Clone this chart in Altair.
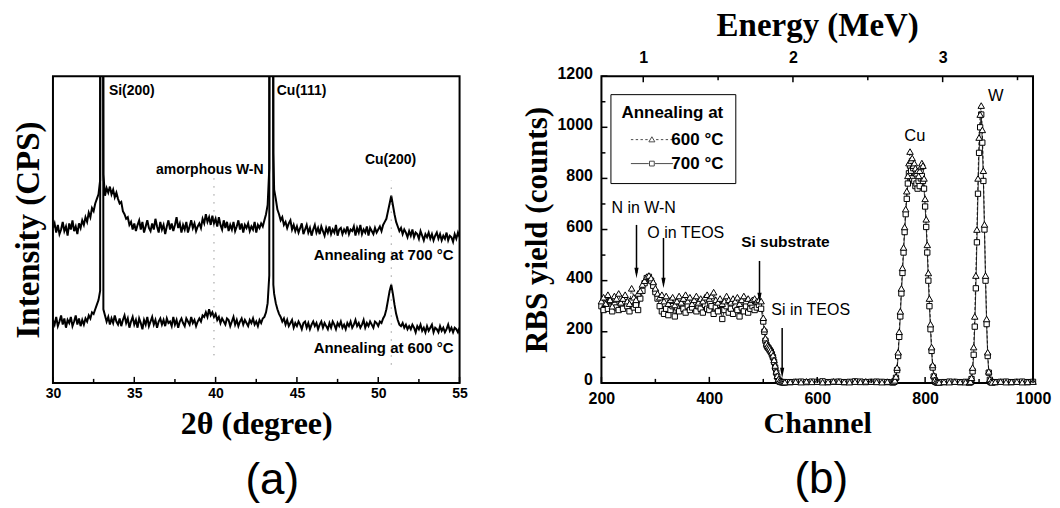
import altair as alt
import pandas as pd

FONT_SANS = "Liberation Sans"
FONT_SERIF = "Liberation Serif"

# ---------------- (a) XRD ----------------
two_theta = [
    30.0, 30.1, 30.2, 30.3, 30.4, 30.5, 30.6, 30.7, 30.8, 30.9,
    31.0, 31.1, 31.2, 31.3, 31.4, 31.5, 31.6, 31.7, 31.8, 31.9,
    32.0, 32.1, 32.2, 32.3, 32.4, 32.5, 32.6, 32.7, 32.8,
    32.9, 32.95, 33.0, 33.05, 33.1,
    33.2, 33.3, 33.4, 33.5, 33.6, 33.7, 33.8, 33.9,
    34.0, 34.1, 34.2, 34.3, 34.4, 34.5, 34.6, 34.7, 34.8, 34.9,
    35.0, 35.1, 35.2, 35.3, 35.4, 35.5, 35.6, 35.7, 35.8, 35.9,
    36.0, 36.1, 36.2, 36.3, 36.4, 36.5, 36.6, 36.7, 36.8, 36.9,
    37.0, 37.1, 37.2, 37.3, 37.4, 37.5, 37.6, 37.7, 37.8, 37.9,
    38.0, 38.1, 38.2, 38.3, 38.4, 38.5, 38.6, 38.7, 38.8, 38.9,
    39.0, 39.1, 39.2, 39.3, 39.4, 39.5, 39.6, 39.7, 39.8, 39.9,
    40.0, 40.1, 40.2, 40.3, 40.4, 40.5, 40.6, 40.7, 40.8, 40.9,
    41.0, 41.1, 41.2, 41.3, 41.4, 41.5, 41.6, 41.7, 41.8, 41.9,
    42.0, 42.1, 42.2, 42.3, 42.4, 42.5, 42.6, 42.7, 42.8, 42.9,
    43.0, 43.1, 43.2,
    43.3, 43.35, 43.4, 43.45, 43.5, 43.55,
    43.6, 43.7, 43.8, 43.9,
    44.0, 44.1, 44.2, 44.3, 44.4, 44.5, 44.6, 44.7, 44.8, 44.9,
    45.0, 45.1, 45.2, 45.3, 45.4, 45.5, 45.6, 45.7, 45.8, 45.9,
    46.0, 46.1, 46.2, 46.3, 46.4, 46.5, 46.6, 46.7, 46.8, 46.9,
    47.0, 47.1, 47.2, 47.3, 47.4, 47.5, 47.6, 47.7, 47.8, 47.9,
    48.0, 48.1, 48.2, 48.3, 48.4, 48.5, 48.6, 48.7, 48.8, 48.9,
    49.0, 49.1, 49.2, 49.3, 49.4, 49.5, 49.6, 49.7, 49.8, 49.9,
    50.0, 50.1, 50.2, 50.3, 50.4, 50.5, 50.6, 50.7, 50.8, 50.9,
    51.0, 51.1, 51.2, 51.3, 51.4, 51.5, 51.6, 51.7, 51.8, 51.9,
    52.0, 52.1, 52.2, 52.3, 52.4, 52.5, 52.6, 52.7, 52.8, 52.9,
    53.0, 53.1, 53.2, 53.3, 53.4, 53.5, 53.6, 53.7, 53.8, 53.9,
    54.0, 54.1, 54.2, 54.3, 54.4, 54.5, 54.6, 54.7, 54.8, 54.9,
    55.0,
]
xrd_700 = [
    50.5, 52, 49, 51.5, 48.5, 50, 52.5, 49.5, 51, 48,
    52, 50, 53, 49.5, 51, 48.5, 52, 50.5, 53, 51.5,
    54, 52.5, 55.5, 54, 57, 56, 58.5, 60, 61.5,
    66, 400, 500, 400, 68,
    61, 63.5, 62, 64, 61.5, 63, 60.5, 62,
    60, 58.5, 59, 56, 55, 53.5, 54, 51.5, 52.5, 50,
    52, 49.5, 51.5, 53, 50, 52.5, 49, 51, 53, 50.5,
    49.5, 52, 50, 53.5, 51, 49, 52.5, 50, 51.5, 48.5,
    51, 53, 50, 52, 49.5, 51.5, 54, 50.5, 52, 49,
    51.5, 50, 52.5, 49, 51, 53, 50.5, 52, 49.5, 51,
    52, 50.5, 53.5, 52, 55, 52.5, 54, 51.5, 54.5, 52,
    53.5, 51, 54, 51.5, 50, 53, 50.5, 52.5, 49.5, 51.5,
    50, 52.5, 49.5, 51, 53, 50, 52, 49, 51.5, 50.5,
    52, 49.5, 51, 50, 52.5, 49, 51.5, 50.5, 52, 51,
    53, 55, 58,
    70, 400, 500, 500, 400, 75,
    63, 60, 56.5, 55,
    53, 54, 51.5, 52.5, 50.5, 52, 53, 50, 51.5, 49.5,
    51, 49, 50.5, 52, 48.5, 50, 51.5, 49, 50.5, 48,
    50, 51.5, 49, 50.5, 48.5, 51, 49.5, 48, 50.5, 49,
    51, 48.5, 50, 49, 51.5, 48, 50, 50.5, 48.5, 50,
    49, 51, 48.5, 50, 49.5, 51, 48, 50.5, 49, 51.5,
    48.5, 50, 49, 51, 48, 50.5, 49.5, 48.5, 50.5, 49,
    50, 51, 49.5, 51.5, 52.5, 53.5, 56, 58.5, 61, 58,
    55, 52.5, 51, 49.5, 50.5, 48.5, 50, 49, 47.5, 49.5,
    48, 50, 47.5, 49, 48.5, 47, 49.5, 48, 46.5, 48.5,
    47.5, 49, 47, 48.5, 46.5, 48, 49, 47, 48.5, 46.5,
    48, 47, 49, 46.5, 48, 47.5, 46, 48.5, 47, 49,
    47.5,
]
xrd_600 = [
    20.5, 19, 21.5, 18.5, 20, 22, 19, 21, 18, 20.5,
    19.5, 21.5, 18.5, 20, 22, 19, 21, 18.5, 20.5, 19,
    21, 20, 22, 21, 23, 22.5, 24, 25.5, 27,
    30, 400, 500, 400, 24,
    22, 20, 21.5, 19, 21, 19.5, 22, 20,
    19, 21, 18.5, 20.5, 22, 19.5, 21, 18, 20, 21.5,
    19, 20.5, 18, 21, 19.5, 17.5, 20.5, 19, 21.5, 18.5,
    20, 21.5, 19, 20.5, 18, 20, 21, 19, 20.5, 18.5,
    21, 19.5, 20, 18.5, 21.5, 19, 20.5, 18, 20, 21,
    19.5, 18.5, 21, 20, 19, 21.5, 19.5, 20.5, 18.5, 20,
    21, 20, 22, 21.5, 23, 21.5, 24, 22, 23, 21.5,
    22.5, 20.5, 21.5, 19.5, 21, 20, 19, 21, 20.5, 18.5,
    20, 21.5, 19, 20.5, 18.5, 20, 21, 19, 20.5, 19.5,
    18.5, 20.5, 19.5, 21, 19, 20, 18.5, 20.5, 19.5, 21,
    21.5, 23, 26,
    35, 400, 500, 500, 400, 32,
    29, 26, 24, 22.5,
    21.5, 20, 21, 19, 20.5, 18.5, 19.5, 20.5, 18, 19.5,
    18.5, 20, 19, 17.5, 19.5, 20, 18, 19.5, 17.5, 19,
    20, 18.5, 19.5, 17.5, 19, 20, 18, 19.5, 18.5, 17.5,
    19.5, 18, 20, 19, 17.5, 19.5, 18.5, 20, 18, 19,
    17.5, 19.5, 18.5, 20, 18, 19, 20.5, 18.5, 19.5, 18,
    19, 20.5, 18, 19.5, 18.5, 20, 19, 18, 20, 19.5,
    18.5, 20, 19.5, 21, 22, 24, 27, 30, 32, 29,
    25.5, 22.5, 20.5, 19, 18.5, 19.5, 18, 19, 17.5, 18.5,
    17.5, 19, 18, 16.5, 18.5, 17.5, 19, 17, 18, 16.5,
    18.5, 17, 18, 19, 16.5, 18, 17.5, 16.5, 18.5, 17,
    18, 16.5, 17.5, 19, 17, 18, 16.5, 18, 17.5, 16.5,
    18,
]
xrd_series = ["Annealing at 700 °C", "Annealing at 600 °C"]
xrd_ticks_major = [30, 35, 40, 45, 50, 55]
xrd_ticks_minor = [32.5, 37.5, 42.5, 47.5, 52.5]
xrd_guide_x = [39.9, 50.8]
xrd_guide_lo = [9, 6]
xrd_guide_hi = [70, 66]
xrd_peak_labels = ["Si(200)", "Cu(111)"]
xrd_peak_x = [33.44, 43.76]
xrd_peak_y = [95.1, 95.1]
xrd_mid_labels = ["amorphous W-N", "Cu(200)"]
xrd_mid_x = [39.64, 50.76]
xrd_mid_y = [69.4, 72.6]
xrd_series_x = [54.63, 54.63]
xrd_series_y = [41.7, 11.4]

# ---------------- (b) RBS ----------------
ch_plateau = [
    200, 204, 208, 212, 216, 220, 224, 228, 232, 236,
    240, 244, 248, 252, 256, 260, 264, 268, 272, 276,
    280, 284, 288, 292, 296, 300, 304, 308, 312, 316,
    320, 324, 328, 332, 336, 340, 344, 348, 352, 356,
    360, 364, 368, 372, 376, 380, 384, 388, 392, 396,
    400, 404, 408, 412, 416, 420, 424, 428, 432, 436,
    440, 444, 448, 452, 456, 460, 464, 468, 472, 476,
    480, 484, 488, 492, 496,
]
tri_plateau = [
    320, 335, 310, 345, 325, 300, 340, 330, 350, 315,
    330, 345, 320, 310, 370, 335, 325, 350, 360, 385,
    400, 415, 420, 410, 395, 370, 350, 335, 345, 320,
    340, 310, 325, 335, 305, 320, 340, 315, 330, 345,
    320, 335, 310, 325, 340, 315, 330, 320, 335, 345,
    330, 340, 355, 325, 315, 330, 310, 320, 340, 325,
    315, 330, 320, 335, 310, 325, 340, 320, 330, 315,
    325, 330, 320, 325, 320,
]
sq_plateau = [
    300, 285, 310, 290, 320, 280, 305, 295, 285, 310,
    290, 315, 300, 280, 320, 295, 305, 285, 330, 360,
    390, 410, 415, 400, 380, 355, 330, 300, 280, 270,
    290, 265, 285, 300, 260, 295, 280, 310, 290, 275,
    300, 285, 295, 310, 280, 300, 290, 275, 305, 290,
    285, 300, 270, 295, 280, 305, 250, 285, 300, 275,
    290, 270, 300, 285, 260, 295, 280, 300, 275, 290,
    300, 285, 295, 305, 290,
]
ch_edge = [500, 502, 504, 506, 508, 510, 512, 514, 516, 518, 520,
           522, 524, 526, 528, 530, 532, 534, 536, 538, 540]
tri_edge = [255, 210, 175, 155, 145, 140, 135, 128, 120, 108, 90,
            68, 45, 28, 15, 8, 5, 4, 4, 3, 3]
sq_edge = [240, 200, 165, 148, 140, 135, 128, 122, 112, 100, 82,
           60, 40, 24, 12, 7, 4, 3, 3, 3, 3]
ch_zero1 = [550, 560, 570, 580, 590, 600, 610, 620, 630, 640,
            650, 660, 670, 680, 690, 700, 710, 720, 730]
tri_zero1 = [4, 5, 3, 6, 4, 5, 3, 4, 6, 5, 4, 3, 5, 4, 6, 5, 4, 3, 5]
sq_zero1 = [3, 4, 5, 3, 5, 4, 6, 3, 4, 5, 3, 4, 6, 5, 3, 4, 5, 4, 3]
ch_cu = [740, 742, 744, 746, 748, 750, 752, 754, 756, 758,
         760, 762, 764, 766, 768, 770, 772, 774, 776, 778,
         780, 782, 784, 786, 788, 790, 792, 794, 796, 798,
         800, 802, 804, 806, 808, 810, 812, 814, 816, 818,
         820, 822, 824, 826]
tri_cu = [3, 5, 10, 25, 60, 120, 200, 280, 370, 450,
          530, 610, 680, 750, 810, 860, 905, 870, 880, 850,
          860, 840, 820, 830, 810, 830, 845, 860, 850, 800,
          720, 640, 540, 430, 330, 230, 140, 70, 30, 12,
          5, 3, 3, 2]
sq_cu = [2, 4, 8, 20, 50, 105, 180, 260, 350, 430,
         510, 590, 660, 720, 780, 820, 850, 830, 800, 840,
         790, 770, 780, 760, 790, 770, 800, 810, 790, 760,
         690, 610, 510, 400, 300, 210, 125, 60, 25, 10,
         4, 2, 2, 2]
ch_zero2 = [835, 845, 855, 865, 875]
tri_zero2 = [4, 3, 5, 4, 3]
sq_zero2 = [3, 5, 4, 3, 4]
ch_w = [882, 884, 886, 888, 890, 892, 894, 896, 898, 900, 902,
        904, 906, 908, 910, 912, 914, 916, 918, 920, 922, 924]
tri_w = [2, 5, 20, 60, 140, 260, 420, 600, 800, 960, 1050,
         1085, 990, 830, 620, 420, 250, 120, 45, 15, 5, 2]
sq_w = [2, 4, 15, 45, 110, 220, 370, 550, 740, 900, 1000,
        1050, 940, 790, 600, 400, 230, 105, 40, 12, 4, 2]
ch_zero3 = [930, 940, 950, 960, 970, 980, 990, 1000]
tri_zero3 = [4, 5, 3, 4, 5, 3, 4, 5]
sq_zero3 = [3, 4, 5, 3, 4, 5, 3, 4]

rbs_series = ["600 °C", "700 °C"]
channels_per_mev = 277.5
rbs_x_major = [200, 400, 600, 800, 1000]
rbs_x_minor = [300, 500, 700, 900]
rbs_y_major = [0, 200, 400, 600, 800, 1000, 1200]
rbs_y_minor = [100, 300, 500, 700, 900, 1100]
energy_major = [1, 2, 3]
energy_minor = [1.5, 2.5, 3.5]
rbs_labels = ["N in W-N", "O in TEOS", "Si in TEOS"]
rbs_label_ch = [218.5, 285, 515]
rbs_label_cnt = [684, 586, 285]
rbs_bold_labels = ["Si substrate"]
rbs_bold_ch = [459]
rbs_bold_cnt = [551]
rbs_elem_labels = ["Cu", "W"]
rbs_elem_ch = [781, 931]
rbs_elem_cnt = [965, 1122]
arrow_ch = [265, 315, 493, 535]
arrow_top = [618, 567, 477, 215]
arrow_end = [430, 391, 332, 39]

# ---------------- build (a) ----------------
W_A, W_B, H = 407, 432, 307
n = len(two_theta)
df_xrd = pd.DataFrame({
    "tt": two_theta + two_theta,
    "I": xrd_700 + xrd_600,
    "series": [xrd_series[0]] * n + [xrd_series[1]] * n,
})
ax_a_x = alt.Axis(values=xrd_ticks_major, format="d", labelPadding=4,
                  title="2θ (degree)", titleFontSize=32, titlePadding=8)
ax_a_y = alt.Axis(labels=False, title="Intensity (CPS)", titleFontSize=33, titlePadding=7)
xa = alt.X("tt:Q", scale=alt.Scale(domain=[30, 55], nice=False, zero=False), axis=ax_a_x)
ya = alt.Y("I:Q", scale=alt.Scale(domain=[0, 100], nice=False, zero=False), axis=ax_a_y)

lines_a = alt.Chart(df_xrd).mark_line(color="black", strokeWidth=2, clip=True).encode(
    x=xa, y=ya, detail="series:N")

guides = pd.DataFrame({"tt": xrd_guide_x, "I": xrd_guide_lo, "I2": xrd_guide_hi})
guide_a = alt.Chart(guides).mark_rule(color="#666", strokeWidth=1, strokeDash=[1, 7]).encode(
    x=xa, y=ya, y2="I2:Q")

tk_maj_a = alt.Chart(pd.DataFrame({"tt": xrd_ticks_major})).mark_rule(
    color="black", strokeWidth=1.5).encode(x=xa, y=alt.value(H), y2=alt.value(H - 6))
tk_min_a = alt.Chart(pd.DataFrame({"tt": xrd_ticks_minor})).mark_rule(
    color="black", strokeWidth=1.5).encode(x=xa, y=alt.value(H), y2=alt.value(H - 4))

txt_peak = alt.Chart(pd.DataFrame({"tt": xrd_peak_x, "I": xrd_peak_y, "t": xrd_peak_labels})).mark_text(
    font=FONT_SANS, fontSize=14, fontWeight="bold", align="left", baseline="middle", color="black"
).encode(x=xa, y=ya, text="t:N")
txt_mid = alt.Chart(pd.DataFrame({"tt": xrd_mid_x, "I": xrd_mid_y, "t": xrd_mid_labels})).mark_text(
    font=FONT_SANS, fontSize=14, fontWeight="bold", align="center", baseline="middle", color="black"
).encode(x=xa, y=ya, text="t:N")
txt_series = alt.Chart(pd.DataFrame({"tt": xrd_series_x, "I": xrd_series_y, "t": xrd_series})).mark_text(
    font=FONT_SANS, fontSize=15, fontWeight="bold", align="right", baseline="middle", color="black"
).encode(x=xa, y=ya, text="t:N")

chart_a = alt.layer(lines_a, guide_a, tk_maj_a, tk_min_a, txt_peak, txt_mid, txt_series).properties(
    width=W_A, height=H,
    title=alt.TitleParams("(a)", orient="bottom", font=FONT_SANS, fontSize=44, fontWeight="normal",
                          color="black", offset=19, dx=16),
)

# ---------------- build (b) ----------------
ch_all = ch_plateau + ch_edge + ch_zero1 + ch_cu + ch_zero2 + ch_w + ch_zero3
tri_all = tri_plateau + tri_edge + tri_zero1 + tri_cu + tri_zero2 + tri_w + tri_zero3
sq_all = sq_plateau + sq_edge + sq_zero1 + sq_cu + sq_zero2 + sq_w + sq_zero3
df600 = pd.DataFrame({"ch": ch_all, "cnt": tri_all})
df700 = pd.DataFrame({"ch": ch_all, "cnt": sq_all})

ax_b_x = alt.Axis(values=rbs_x_major, format="d", labelPadding=8, labelFontSize=16,
                  title="Channel", titleFontSize=30, titlePadding=2)
ax_b_y = alt.Axis(values=rbs_y_major, format="d", labelPadding=9, labelFontSize=16, labelOffset=-3,
                  title="RBS yield (counts)", titleFontSize=31, titlePadding=3)
xb = alt.X("ch:Q", scale=alt.Scale(domain=[200, 1000], nice=False, zero=False), axis=ax_b_x)
yb = alt.Y("cnt:Q", scale=alt.Scale(domain=[0, 1200], nice=False), axis=ax_b_y)

line600 = alt.Chart(df600).mark_line(color="black", strokeWidth=0.8, strokeDash=[3, 2]).encode(x=xb, y=yb)
line700 = alt.Chart(df700).mark_line(color="black", strokeWidth=0.8).encode(x=xb, y=yb)
pts700 = alt.Chart(df700).mark_point(shape="square", size=28, filled=True, fill="white",
                                     stroke="black", strokeWidth=1, opacity=1).encode(x=xb, y=yb)
pts600 = alt.Chart(df600).mark_point(shape="triangle-up", size=42, filled=True, fill="white",
                                     stroke="black", strokeWidth=1, opacity=1).encode(x=xb, y=yb)

tk_maj_bx = alt.Chart(pd.DataFrame({"ch": rbs_x_major})).mark_rule(color="black", strokeWidth=1.5).encode(
    x=xb, y=alt.value(H), y2=alt.value(H - 6))
tk_min_bx = alt.Chart(pd.DataFrame({"ch": rbs_x_minor})).mark_rule(color="black", strokeWidth=1.5).encode(
    x=xb, y=alt.value(H), y2=alt.value(H - 4))
tk_maj_by = alt.Chart(pd.DataFrame({"cnt": rbs_y_major})).mark_rule(color="black", strokeWidth=1.5).encode(
    y=yb, x=alt.value(0), x2=alt.value(6))
tk_min_by = alt.Chart(pd.DataFrame({"cnt": rbs_y_minor})).mark_rule(color="black", strokeWidth=1.5).encode(
    y=yb, x=alt.value(0), x2=alt.value(4))

df_arrows = pd.DataFrame({"ch": arrow_ch, "cnt": arrow_top, "cnt2": arrow_end})
shafts = alt.Chart(df_arrows).mark_rule(color="black", strokeWidth=1.5).encode(x=xb, y=yb, y2="cnt2:Q")
heads = alt.Chart(pd.DataFrame({"ch": arrow_ch, "cnt": arrow_end})).mark_point(
    shape="M-0.4,-1L0.4,-1L0,1Z", filled=True, color="black", size=110, opacity=1).encode(x=xb, y=yb)

txt_b = alt.Chart(pd.DataFrame({"ch": rbs_label_ch, "cnt": rbs_label_cnt, "t": rbs_labels})).mark_text(
    font=FONT_SANS, fontSize=16, align="left", baseline="middle", color="black").encode(x=xb, y=yb, text="t:N")
txt_bold = alt.Chart(pd.DataFrame({"ch": rbs_bold_ch, "cnt": rbs_bold_cnt, "t": rbs_bold_labels})).mark_text(
    font=FONT_SANS, fontSize=15.5, fontWeight="bold", align="left", baseline="middle", color="black"
).encode(x=xb, y=yb, text="t:N")
txt_elem = alt.Chart(pd.DataFrame({"ch": rbs_elem_ch, "cnt": rbs_elem_cnt, "t": rbs_elem_labels})).mark_text(
    font=FONT_SANS, fontSize=16.5, align="center", baseline="middle", color="black").encode(x=xb, y=yb, text="t:N")

path600 = ("M-7,0H-6.2M-5.4,0H-4.6M-3.8,0H-3M-2.2,0H-1.4"
           "M-1,0.75L0,-0.95L1,0.75Z"
           "M1.4,0H2.2M3,0H3.8M4.6,0H5.4M6.2,0H7")
path700 = "M-7,0H-1.05M-0.8,-0.8H0.8V0.8H-0.8ZM1.05,0H7"
legend_layer = alt.Chart(pd.DataFrame({"series": rbs_series})).transform_filter("false").mark_point(
    color="black", filled=False).encode(
    shape=alt.Shape("series:N", scale=alt.Scale(domain=rbs_series, range=[path600, path700]),
                    legend=alt.Legend(
                        orient="none", legendX=558, legendY=18, title="Annealing at",
                        titleFont=FONT_SANS, titleFontSize=17, titleFontWeight="bold", titleColor="black",
                        titlePadding=9,
                        labelFont=FONT_SANS, labelFontSize=17, labelFontWeight="bold", labelColor="black",
                        symbolSize=36, symbolOffset=22, labelOffset=11, symbolStrokeColor="black",
                        symbolFillColor="white", symbolStrokeWidth=1, rowPadding=6,
                        strokeColor="black", fillColor="white", padding=11)))

inner_b = alt.layer(line700, line600, pts700, pts600, tk_maj_bx, tk_min_bx, tk_maj_by, tk_min_by,
                    shafts, heads, txt_b, txt_bold, txt_elem, legend_layer)

xe = alt.X("E:Q", scale=alt.Scale(domain=[200 / channels_per_mev, 1000 / channels_per_mev], nice=False, zero=False),
           axis=alt.Axis(orient="top", values=energy_major, format="d", labelPadding=11, labelFontSize=16,
                         title="Energy (MeV)", titleFontSize=33, titlePadding=7))
tk_maj_e = alt.Chart(pd.DataFrame({"E": energy_major})).mark_rule(color="black", strokeWidth=1.5).encode(
    x=xe, y=alt.value(0), y2=alt.value(6))
tk_min_e = alt.Chart(pd.DataFrame({"E": energy_minor})).mark_rule(color="black", strokeWidth=1.5).encode(
    x=xe, y=alt.value(0), y2=alt.value(4))
energy_layer = alt.layer(tk_maj_e, tk_min_e)

chart_b = alt.layer(inner_b, energy_layer).resolve_scale(x="independent").properties(
    width=W_B, height=H,
    title=alt.TitleParams("(b)", orient="bottom", font=FONT_SANS, fontSize=44, fontWeight="normal",
                          color="black", offset=19, dx=4),
)

chart = alt.hconcat(chart_a, chart_b, spacing=142, bounds="flush").properties(
    padding={"left": 4, "top": 0, "right": 0, "bottom": 0}
).configure_view(stroke="black", strokeWidth=2).configure_axis(
    grid=False, domain=False, ticks=False, tickSize=0, labelFlush=False,
    labelFont=FONT_SANS, labelFontWeight="bold", labelFontSize=14, labelColor="black",
    titleFont=FONT_SERIF, titleFontWeight="bold", titleFontSize=31, titleColor="black",
)

chart.save("out.html", embed_options={"renderer": "svg", "actions": False})
